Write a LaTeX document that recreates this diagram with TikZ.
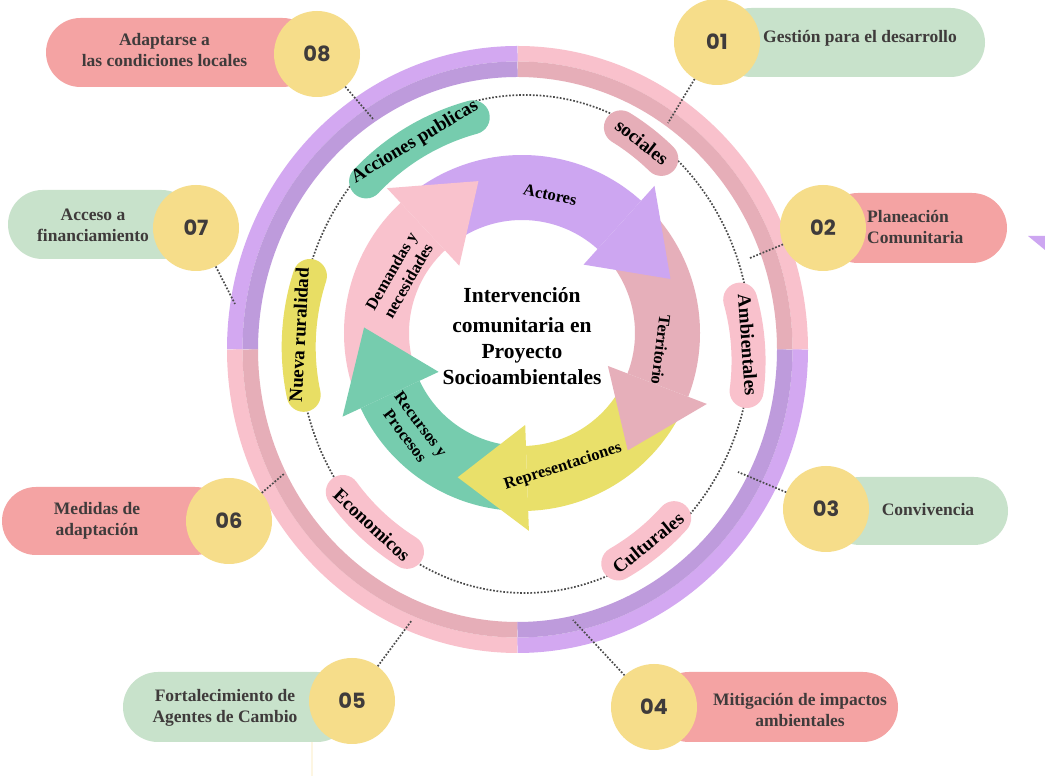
\documentclass[tikz,border=0pt]{standalone}
\usepackage{fontspec}
\setmainfont{Liberation Serif}
\newfontfamily\numfont{Poppins}
\usetikzlibrary{calc}
\definecolor{ringPurL}{HTML}{D3A8F1}
\definecolor{ringPurD}{HTML}{BE9BDC}
\definecolor{ringPinkL}{HTML}{F9C1CC}
\definecolor{ringPinkD}{HTML}{E6AEB8}
\definecolor{arPurple}{HTML}{CDA6F1}
\definecolor{arTerr}{HTML}{E6AFBA}
\definecolor{arYellow}{HTML}{E9E06A}
\definecolor{arGreen}{HTML}{76CCAE}
\definecolor{arPink}{HTML}{F9C2CD}
\definecolor{pillYellow}{HTML}{E8DE64}
\definecolor{badgeYellow}{HTML}{F6DD8A}
\definecolor{badgeGreen}{HTML}{C8E2CB}
\definecolor{badgeRed}{HTML}{F4A3A3}
\definecolor{txtGray}{HTML}{3F3B3B}
\definecolor{dotGray}{HTML}{4A4A4A}
\newcommand{\pillcw}[6]{\begin{scope}[shift={(#1,#2)},rotate=#3]\draw[pillstroke,draw=#6] (0,-#5) ++(90+#4:#5) arc[start angle=90+#4,end angle=90-#4,radius=#5];\end{scope}}
\newcommand{\pillccw}[6]{\begin{scope}[shift={(#1,#2)},rotate=#3]\draw[pillstroke,draw=#6] (0,#5) ++(270-#4:#5) arc[start angle=270-#4,end angle=270+#4,radius=#5];\end{scope}}
\begin{document}
\begin{tikzpicture}[x=1pt,y=1pt,
  pillstroke/.style={line width=34pt,line cap=round},
  pilltext/.style={font=\fontsize{19}{22}\selectfont\bfseries,text=black,inner sep=0pt},
  arrowtext/.style={font=\fontsize{16.5}{19.5}\selectfont\bfseries,text=black,align=center,inner sep=0pt},
  badge/.style={circle,fill=badgeYellow,minimum size=86pt,inner sep=0pt,font=\numfont\fontsize{21}{21}\selectfont\bfseries,text=txtGray},
  btext/.style={font=\fontsize{17.5}{21}\selectfont\bfseries,text=txtGray,align=center,inner sep=0pt},
  dotline/.style={draw=dotGray,line width=1.7pt,dash pattern=on 1.7pt off 1.7pt},
]
\useasboundingbox (0,0) rectangle (1045,776);
\fill[white] (0,0) rectangle (1045,776);

% outer ring
\coordinate (O) at (517.5,426.5);
\foreach \a/\cl/\cd in {0/ringPinkL/ringPinkD,90/ringPurL/ringPurD,180/ringPinkL/ringPinkD,270/ringPurL/ringPurD}{
  \draw[line width=15.5pt,draw=\cl] (O) ++(\a:282.75 and 295.75) arc[start angle=\a,end angle=\a+90,x radius=282.75,y radius=295.75];
  \draw[line width=15.5pt,draw=\cd] (O) ++(\a:267.25 and 280.25) arc[start angle=\a,end angle=\a+90,x radius=267.25,y radius=280.25];
}

% dotted inner ellipse
\draw[dotline] (525,432) ellipse[x radius=226,y radius=249];

% pills
\pillcw{415}{634}{31}{15.7}{230}{arGreen}
\pillcw{642}{634}{-38}{6.4}{230}{ringPinkD}
\pillcw{748}{431}{-86}{11.5}{230}{ringPinkL}
\pillccw{648}{233}{39}{9}{230}{ringPinkL}
\pillccw{372}{251}{-43}{11}{230}{ringPinkL}
\pillcw{299}{441}{87}{15}{230}{pillYellow}
\node[pilltext,rotate=31] (pAcc) at (415,634) {Acciones publicas};
\node[pilltext,rotate=-38] (pSoc) at (642,634) {sociales};
\node[pilltext,rotate=-86] (pAmb) at (748,431) {Ambientales};
\node[pilltext,rotate=39] (pCul) at (648,233) {Culturales};
\node[pilltext,rotate=-43] (pEco) at (372,251) {Economicos};
\node[pilltext,rotate=87] (pNue) at (299,441) {Nueva ruralidad};

% badges
\fill[badgeRed,rounded corners=34.5pt] (46,689) rectangle (317,758);
\fill[badgeGreen,rounded corners=34.5pt] (8,517) rectangle (196,586);
\fill[badgeRed,rounded corners=34pt] (2,221) rectangle (229,289);
\fill[badgeGreen,rounded corners=35pt] (123,34) rectangle (352,104);
\fill[badgeRed,rounded corners=35pt] (654,34) rectangle (898,104);
\fill[badgeGreen,rounded corners=34pt] (826,231) rectangle (1008,299);
\fill[badgeRed,rounded corners=35pt] (823,513) rectangle (1007,583);
\fill[badgeGreen,rounded corners=34.5pt] (717,699) rectangle (985,768);
\fill[arPurple] (1028,540) -- (1045,540) -- (1045,526) -- cycle;
\draw[line width=2pt,draw=badgeYellow!25] (312,34) -- (312,0);

\node[badge] (b1) at (717,734) {01};
\node[badge] (b2) at (823,548) {02};
\node[badge] (b3) at (826,267) {03};
\node[badge] (b4) at (654,69) {04};
\node[badge] (b5) at (352,75) {05};
\node[badge] (b6) at (229,255) {06};
\node[badge] (b7) at (196,548) {07};
\node[badge] (b8) at (317,722) {08};

\node[btext] (t1) at (860,738) {Gestión para el desarrollo};
\node[btext,align=left,anchor=west] (t2) at (867,549) {Planeación\\Comunitaria};
\node[btext] (t3) at (928,266) {Convivencia};
\node[btext] (t4) at (800,66) {Mitigación de impactos\\ambientales};
\node[btext] (t5) at (225,68) {Fortalecimiento de\\Agentes de Cambio};
\node[btext] (t6) at (97,255) {Medidas de\\adaptación};
\node[btext] (t7) at (93,551) {Acceso a\\financiamiento};
\node[btext] (t8) at (164.5,726) {Adaptarse a\\las condiciones locales};

% connectors
\coordinate (c1) at (668,653);
\coordinate (c2) at (750,518);
\coordinate (c3) at (738,304);
\coordinate (c4) at (573,156);
\coordinate (c5) at (412,156);
\coordinate (c6) at (285,303);
\coordinate (c7) at (235,472);
\coordinate (c8) at (374,656);
\foreach \i in {1,...,8}{\draw[dotline] (b\i) -- (c\i);}

% inner cycle arrows
\begin{scope}[shift={(522,443)}]
  \fill[arPink] (200:178) arc[start angle=200,end angle=133,radius=178] -- (133:113) arc[start angle=133,end angle=200,radius=113] -- cycle;
  \fill[arPurple] (128:178) arc[start angle=128,end angle=48,radius=178] -- (48:113) arc[start angle=48,end angle=128,radius=113] -- cycle;
  \fill[arTerr] (43:178) arc[start angle=43,end angle=-21,radius=178] -- (-21:113) arc[start angle=-21,end angle=43,radius=113] -- cycle;
  \fill[arYellow] (-26:178) arc[start angle=-26,end angle=-88,radius=178] -- (-88:113) arc[start angle=-88,end angle=-26,radius=113] -- cycle;
  \fill[arGreen] (-93:178) arc[start angle=-93,end angle=-155,radius=178] -- (-155:113) arc[start angle=-155,end angle=-93,radius=113] -- cycle;
  \fill[arPink] (133:92) -- (133:198) -- (106:158) -- cycle;
  \fill[arPurple] (48:92) -- (48:198) -- (20:158) -- cycle;
  \fill[arTerr] (-21:92) -- (-21:198) -- (-48:158) -- cycle;
  \fill[arYellow] (-88:92) -- (-88:198) -- (-114:158) -- cycle;
  \fill[arGreen] (-155:92) -- (-155:198) -- (-182:158) -- cycle;
  \node[arrowtext,rotate=-11.5] (aAct) at (78.5:141) {Actores};
  \node[arrowtext,rotate=-97] (aTer) at (-7:140) {Territorio};
  \node[arrowtext,rotate=18] (aRep) at (-73:140) {Representaciones};
  \node[arrowtext,rotate=-53] (aRec) at (221.7:146) {Recursos y\\Procesos};
  \node[arrowtext,rotate=60] (aDem) at (155:135) {Demandas y\\necesidades};
\end{scope}

\node[font=\fontsize{21.5}{26}\selectfont\bfseries,align=center,text=black,inner sep=0pt] (ctr) at (522,440) {Intervención\\[4pt]comunitaria en\\Proyecto\\Socioambientales};
\end{tikzpicture}
\end{document}
